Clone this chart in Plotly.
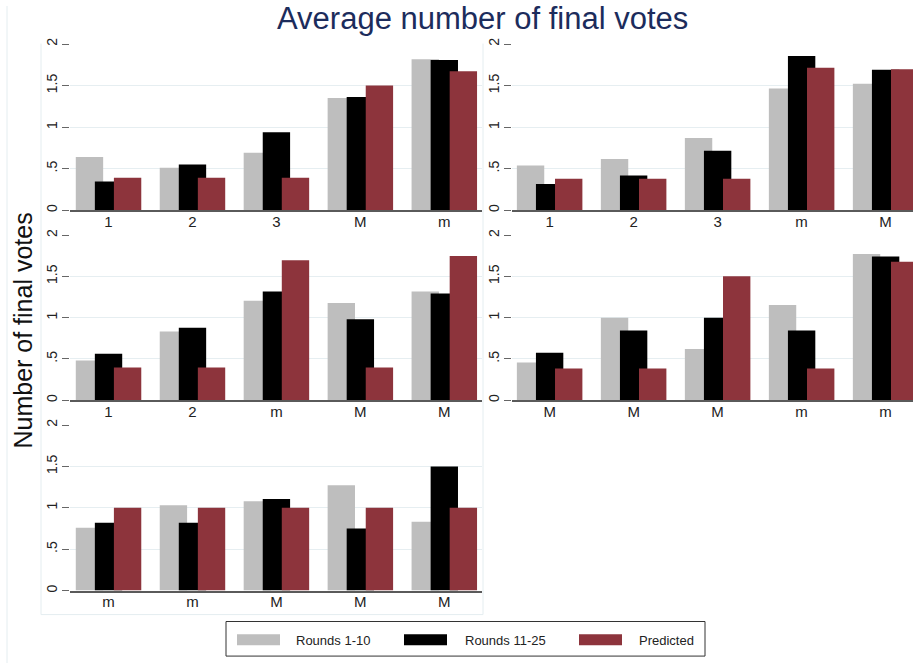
import plotly.graph_objects as go

W, H = 913, 665

series_names = ["Rounds 1-10", "Rounds 11-25", "Predicted"]
series_colors = ["#bebebe", "#000000", "#8d343c"]

y_ticks = [0, 0.5, 1, 1.5, 2]
y_ticktext = ["0", ".5", "1", "1.5", "2"]

# top left
p1_labels = ["1", "2", "3", "M", "m"]
p1_early = [0.639, 0.511, 0.691, 1.349, 1.816]
p1_late = [0.347, 0.551, 0.938, 1.361, 1.808]
p1_pred = [0.391, 0.391, 0.391, 1.5, 1.673]

# top right
p2_labels = ["1", "2", "3", "m", "M"]
p2_early = [0.539, 0.615, 0.870, 1.465, 1.521]
p2_late = [0.315, 0.419, 0.715, 1.856, 1.689]
p2_pred = [0.379, 0.379, 0.379, 1.713, 1.697]

# middle left
p3_labels = ["1", "2", "m", "M", "M"]
p3_early = [0.48, 0.832, 1.204, 1.176, 1.316]
p3_late = [0.564, 0.876, 1.316, 0.98, 1.292]
p3_pred = [0.396, 0.396, 1.696, 0.396, 1.748]

# middle right
p4_labels = ["M", "M", "M", "m", "m"]
p4_early = [0.456, 1.0, 0.62, 1.152, 1.772]
p4_late = [0.576, 0.844, 1.0, 0.844, 1.74]
p4_pred = [0.384, 0.384, 1.5, 0.384, 1.676]

# bottom left
p5_labels = ["m", "m", "M", "M", "M"]
p5_early = [0.758, 1.032, 1.079, 1.274, 0.833]
p5_late = [0.821, 0.821, 1.107, 0.75, 1.5]
p5_pred = [1.0, 1.0, 1.0, 1.0, 1.0]

panels = [
    (p1_labels, [p1_early, p1_late, p1_pred]),
    (p2_labels, [p2_early, p2_late, p2_pred]),
    (p3_labels, [p3_early, p3_late, p3_pred]),
    (p4_labels, [p4_early, p4_late, p4_pred]),
    (p5_labels, [p5_early, p5_late, p5_pred]),
]

# plot boxes in pixels: left, right, top (y=2), bottom (y=0), x range
boxes = [
    (70, 482, 38.3, 206.7, [-0.459, 4.449]),
    (512, 913, 38.3, 206.7, [-0.448, 4.326]),
    (70, 482, 231.7, 399, [-0.459, 4.449]),
    (512, 913, 231.7, 399, [-0.448, 4.326]),
    (70, 482, 424, 591.7, [-0.459, 4.449]),
]

bar_w = 0.326
shifts = [-0.227, 0.0, 0.227]

font = "Liberation Sans, Arial, sans-serif"

fig = go.Figure()
layout = {}
for i, (labels, series) in enumerate(panels):
    n = "" if i == 0 else str(i + 1)
    left, right, top, bottom, xr = boxes[i]
    xs = list(range(len(labels)))
    for s, vals in enumerate(series):
        fig.add_trace(go.Bar(
            x=xs, y=vals, name=series_names[s],
            marker=dict(color=series_colors[s], line=dict(width=0)),
            width=bar_w, offset=shifts[s] - bar_w / 2,
            xaxis="x" + n, yaxis="y" + n, showlegend=False,
        ))
    layout["xaxis" + n] = dict(
        domain=[left / W, right / W], range=xr, anchor="y" + n,
        tickvals=xs, ticktext=labels, showgrid=False, zeroline=False,
        showline=True, linecolor="#5a5a5a", linewidth=1.5,
        ticks="", ticklabelstandoff=-3,
        tickfont=dict(size=15, color="#222", family=font),
        fixedrange=True,
    )
    layout["yaxis" + n] = dict(
        domain=[1 - bottom / H, 1 - top / H], range=[0, 2.002], anchor="x" + n,
        tickvals=y_ticks, ticktext=y_ticktext, tickangle=-90,
        showgrid=True, gridcolor="#e6eef1", gridwidth=1, zeroline=False,
        showline=False, ticks="outside", ticklen=7, tickcolor="#666",
        ticklabelstandoff=-1,
        tickfont=dict(size=14, color="#222", family=font),
    )

fig.update_layout(**layout)

shapes = []
# faint subgraph region borders
line_c = "#e4edf0"
for x0, y0, x1, y1 in [(7, 0, 7, H), (41, 38, 41, 616), (483, 38, 483, 616), (41, 616, 483, 616)]:
    shapes.append(dict(type="line", xref="paper", yref="paper",
                       x0=x0 / W, y0=1 - y0 / H, x1=x1 / W, y1=1 - y1 / H,
                       line=dict(color=line_c, width=1)))

# legend box
shapes.append(dict(type="rect", xref="paper", yref="paper",
                   x0=226 / W, x1=705 / W, y0=1 - 658 / H, y1=1 - 623 / H,
                   line=dict(color="#333", width=1), fillcolor="white"))
annotations = []
sw_x = [237, 404, 579]
tx_x = [294, 463, 637]
for k in range(3):
    shapes.append(dict(type="rect", xref="paper", yref="paper",
                       x0=sw_x[k] / W, x1=(sw_x[k] + 43) / W,
                       y0=1 - 647 / H, y1=1 - 636 / H,
                       line=dict(width=0), fillcolor=series_colors[k]))
    annotations.append(dict(text=series_names[k], xref="paper", yref="paper",
                            x=tx_x[k] / W, y=1 - 642 / H, xanchor="left", yanchor="middle",
                            showarrow=False, font=dict(size=13, color="#222", family=font)))

annotations.append(dict(text="Average number of final votes", xref="paper", yref="paper",
                        x=482.5 / W, y=1 - 13 / H, xanchor="center", yanchor="middle",
                        showarrow=False, font=dict(size=31, color="#1c2c5c", family=font)))
annotations.append(dict(text="Number of final votes", xref="paper", yref="paper",
                        x=23 / W, y=1 - 328.5 / H, xanchor="center", yanchor="middle",
                        textangle=-90, showarrow=False,
                        font=dict(size=25, color="#111", family=font)))

fig.update_layout(
    width=W, height=H, margin=dict(l=0, r=0, t=0, b=0),
    paper_bgcolor="white", plot_bgcolor="white",
    barmode="overlay", showlegend=False,
    shapes=shapes, annotations=annotations,
)

# the page's default body margin would shift the figure by 8px
fig.write_html("out.html", config={"displayModeBar": False},
               post_script="document.body.style.margin='0';")
